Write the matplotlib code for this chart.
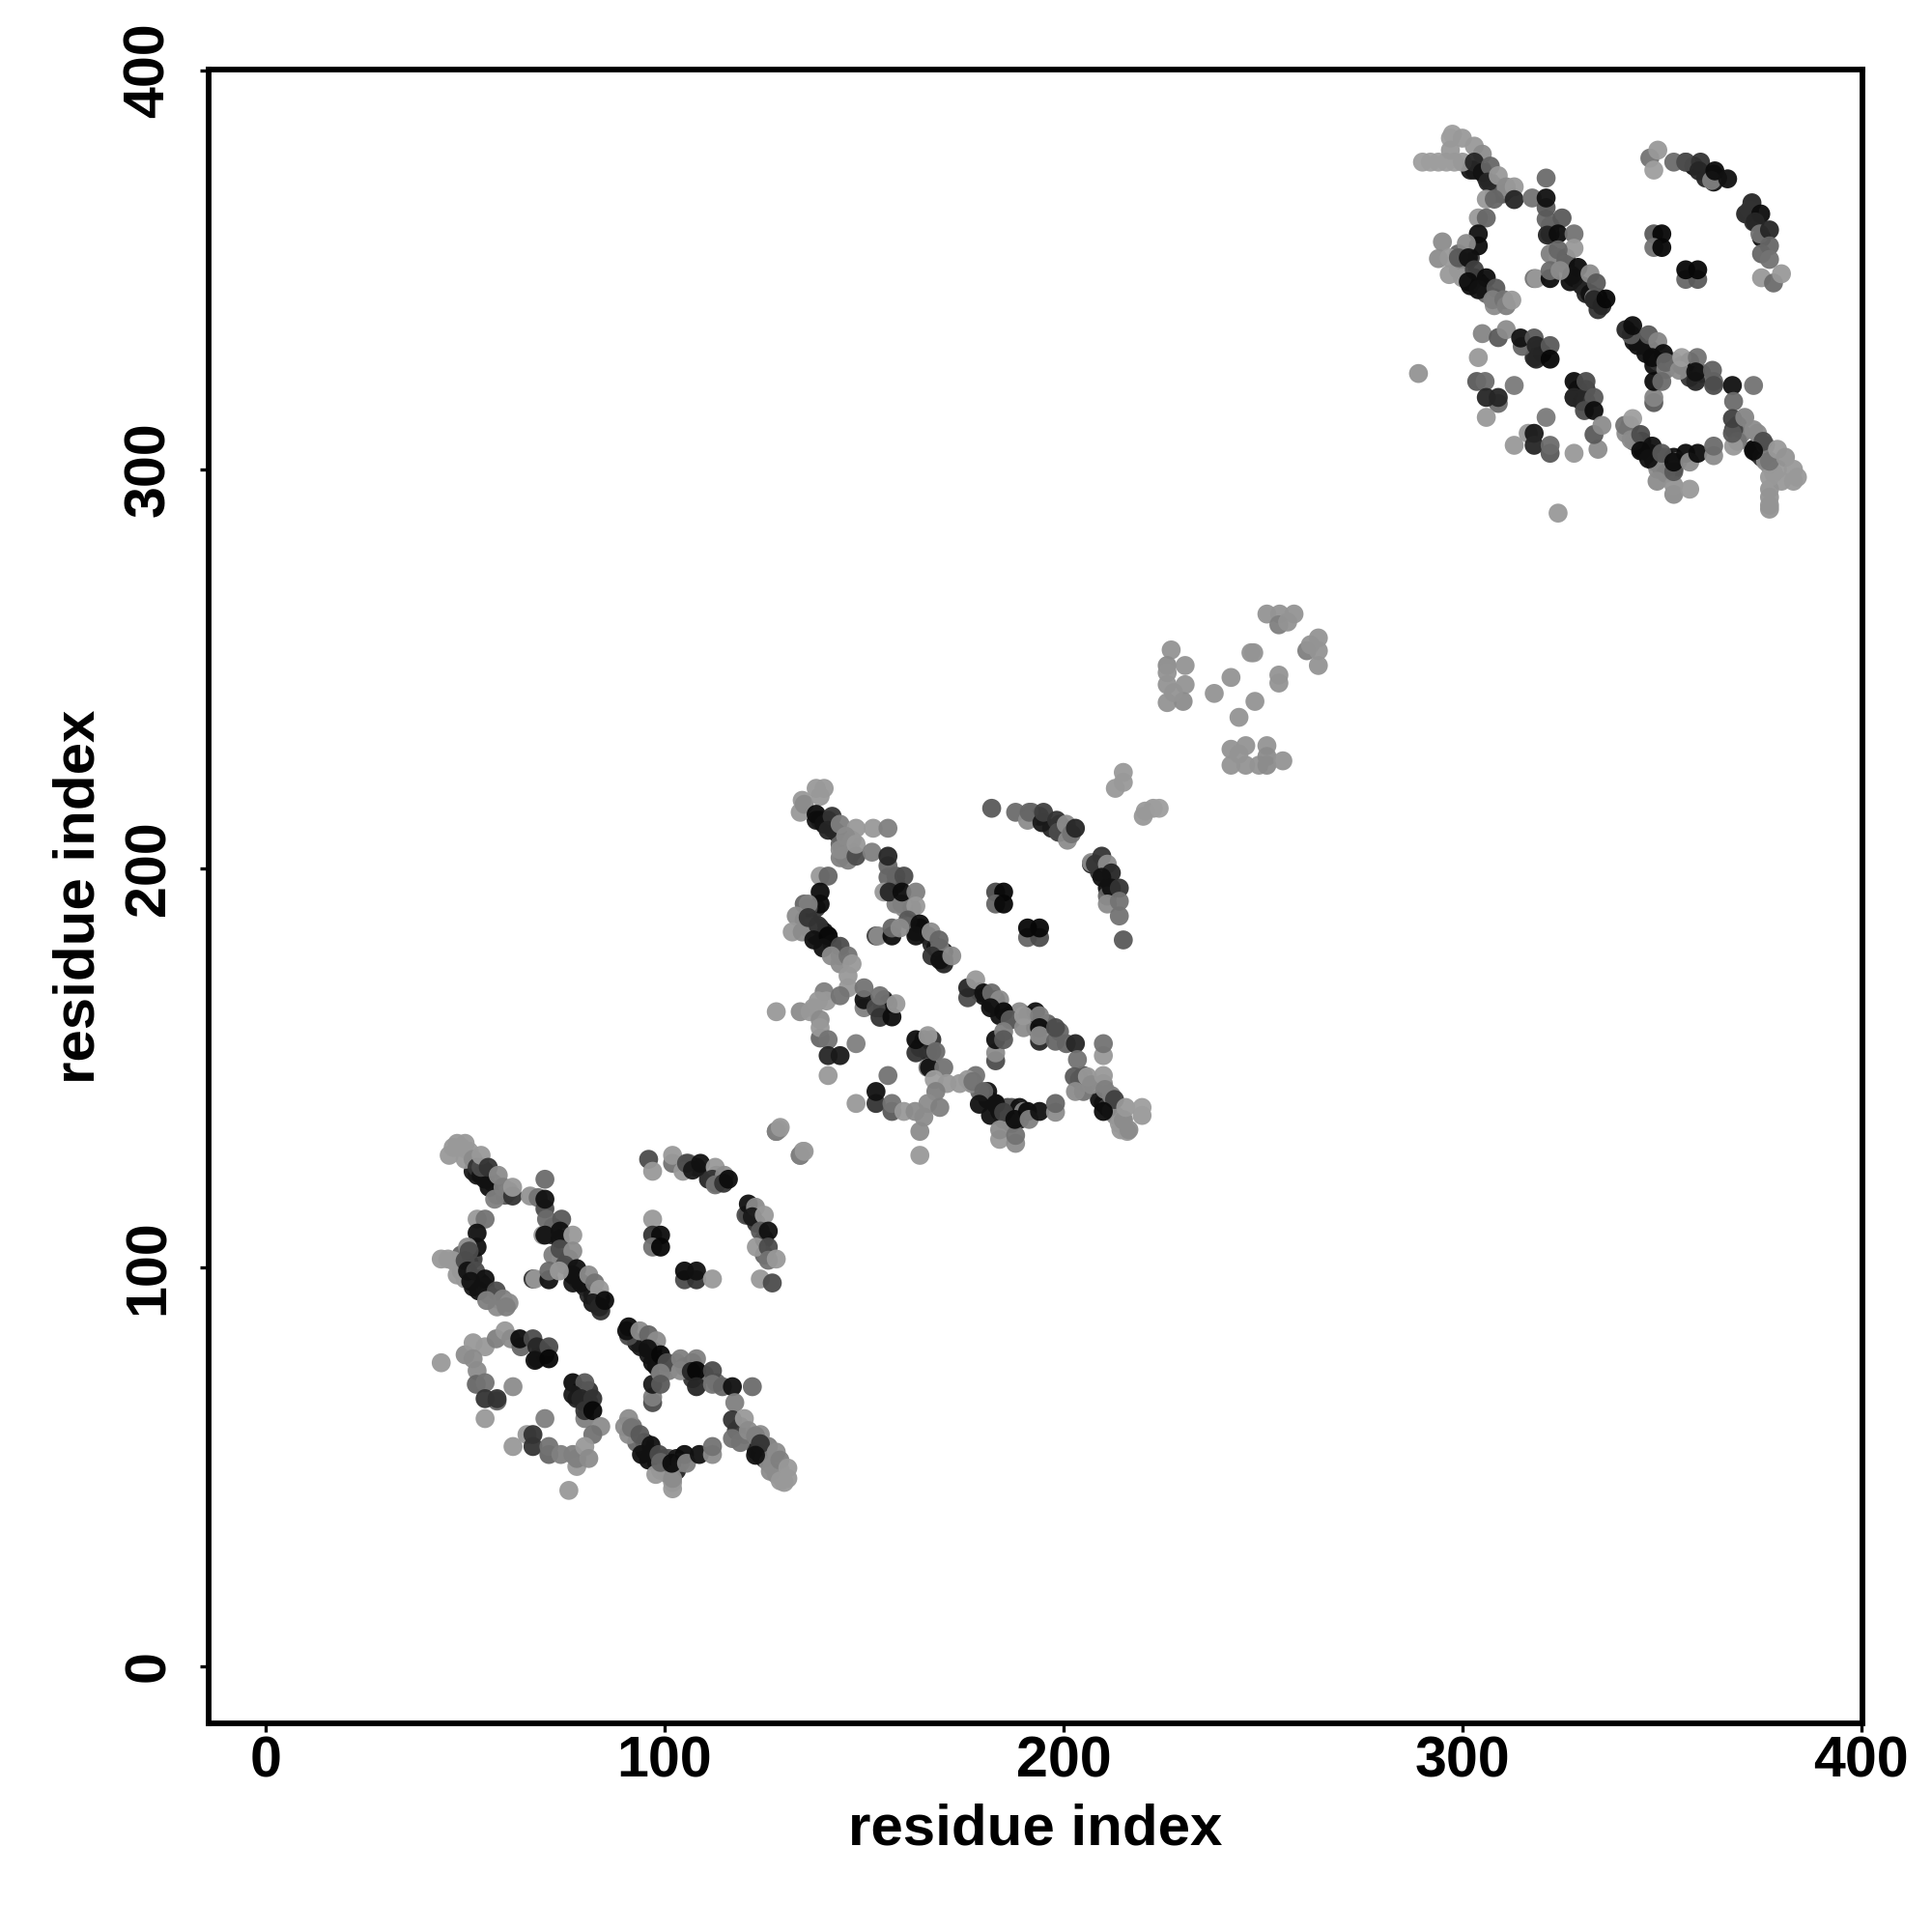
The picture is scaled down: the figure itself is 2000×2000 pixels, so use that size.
import matplotlib
matplotlib.use('Agg')
import matplotlib.pyplot as plt

plt.rcParams['font.family'] = ['Liberation Sans', 'DejaVu Sans']
plt.rcParams['font.weight'] = 'bold'

tick_values = [0, 100, 200, 300, 400]
axis_label = 'residue index'

# contacts as (residue i, residue j, shade), shade is the grey level of the dot
# first repeat
repeat1_dense = [
    (52,124,.1),(53,123,.1),(55,124,.15),(56,122,.2),(57,121,.15),(58,120,.2),(58,118,.4),(60,118,.35),(61,119,.5),
    (51,101,.1),(52,102,.25),(51,98,.15),(53,97,.2),(52,95,.1),(54,96,.1),(55,95,.25),(56,93,.4),(58,92,.5),(58,90,.55),
    (49,103,.4),(49,99,.55),(50,97,.6),
    (72,103,.5),(74,102,.55),(76,102,.3),(77,96,.1),(78,97,.1),(80,95,.1),(81,93,.15),(82,93,.1),(84,92,.1),(84,89,.2),
    (83,92,.5),(72,108,.2),(72,110,.35),
    (93,81,.1),(94,80,.1),(96,78,.1),(97,79,.1),(98,75,.1),(99,76,.2),(101,74,.5),(103,76,.55),(105,75,.2),(107,72,.2),
    (107,76,.1),(110,73,.4),(113,71,.4),(119,60,.3),(120,58,.5),(123,54,.1),(124,53,.1),(125,52,.2),(126,51,.55),(127,50,.55),
    (129,49,.6),(128,48,.6),(130,46,.6),(126,55,.5),(124,58,.55),(118,59,.25),(119,56,.45),
    (95,56,.1),(95,54,.1),(97,53,.1),(98,51,.1),(100,52,.3),(100,49,.1),(101,52,.35),(103,52,.1),(103,49,.15),
    (92,60,.45),(93,56,.4),(91,58,.55),(99,49,.55),(101,48,.5),(104,51,.5),
    (111,122,.15),(113,121,.1),(113,123,.2),(114,122,.15),(106,126,.4),(108,125,.1),(121,113,.15),(123,111,.2),(125,107,.1),(125,103,.4),
    (68,77,.15),(69,79,.2),(70,78,.1),(78,67,.15),(80,66,.1),(81,66,.2),(81,69,.2),(79,69,.15),(80,62,.5),
]
repeat1_upper = [
    (46,128,.6),(47,130,.6),(48,131,.6),(49,130,.6),(50,131,.6),(51,129,.6),(50,127,.6),(52,127,.55),
    (53,125,.2),(54,123,.07),(55,122,.07),(56,120,.07),(54,125,.3),(54,128,.6),(55.8,125,.2),(58.3,123,.55),
    (57.4,117,.5),(59.5,120,.5),(61.9,117.8,.2),(61.9,120,.6),(66.3,117.8,.58),(68.3,117.4,.45),
    (70,122,.42),(70,114.6,.3),(70,117,.07),(70.4,112,.42),(74.2,112,.35),(69.5,108,.6),(70,108,.07),
    (73.8,109,.07),(73.8,107,.07),(77,108,.6),(73.8,104.5,.3),(77,104,.55),(75,100.5,.3),(78,99.6,.07),
    (77,98,.07),(79,96,.07),(81,98,.55),(82.5,96,.45),(83.7,94.4,.6),(82,91,.1),(83.7,90,.15),(85,91.6,.05),
    (67,97,.2),(67.5,97,.6),(71,96.8,.07),(71,99,.42),(73.6,99,.6),
]
repeat1_loop = [
    (53,112,.6),(55,112,.45),(53,108.5,.07),(53,105,.07),(50.6,105,.55),(51,104,.3),(44,102,.6),(45.7,102,.6),
    (47,101.6,.6),(48,98,.6),(50,101.6,.3),(50.6,99,.07),(52.6,99,.3),(51.4,96.4,.07),(55,97,.07),(53.4,94,.07),
    (57.8,94,.3),(55.4,91.6,.5),(59.5,92,.5),(61,91,.55),(60.3,90,.5),
]
repeat1_arc = [
    (96,127,.3),(97,124,.6),(102,126,.45),(102,128,.6),(104.6,124,.6),(105.5,126,.3),(107,124.3,.1),(109,126,.07),
    (112.7,125,.6),(112,122,.2),(115,123,.55),(112.7,120.6,.45),(114.8,121,.2),(116,122,.05),
    (120.4,113,.3),(121,115.8,.07),(122.8,115,.55),(122,112.6,.1),(125,113,.6),(124,109,.35),(126,109,.07),
    (123,105,.6),(126,105,.3),(126,101.7,.45),(128,102,.6),(124,97,.6),(127,96,.3),
    (97,112,.6),(97,108,.2),(99,108,.05),(97,105,.45),(99,105,.03),(105,96.8,.3),(108,96.8,.2),(105,99,.05),
    (108,99,.07),(112,97,.6),(128,134,.5),(128.7,134.5,.6),(134,128,.55),(134.7,129,.6),
]
repeat1_lower_left = [
    (44,76,.6),(50,78,.55),(52,81,.6),(55,80,.6),(57.8,82,.5),(60,84,.6),(61.5,82,.55),(64,80,.4),(63.7,82,.05),
    (67,82,.3),(68,80,.15),(71,80,.3),(67.5,76.6,.07),(71,77,.03),(52,77,.55),(53,74,.55),(52.8,70.6,.4),(55,71,.45),
    (58,66.4,.4),(55,67,.2),(58,67,.2),(62,70,.55),(55,62,.6),(70,62,.5),
    (77,71,.05),(80,71,.35),(77,68,.1),(79,67,.15),(82,67,.2),(80,64,.2),(82,64,.03),(84,60,.55),(82,58,.45),
    (65.5,58,.6),(67,58,.2),(67,55,.2),(62,55,.6),(71,53,.4),(71,55,.45),(74,53,.5),(77,53,.5),(78,50,.6),(78,52,.5),
    (80,55,.6),(81,52,.55),(76,44,.6),
]
repeat1_lower_right = [
    (91,82.7,.3),(90.5,84,.07),(91,85,.05),(93.8,84,.55),(96,83,.4),(98,81.5,.55),(95.8,79.5,.07),(97,76,.07),(99,78,.03),
    (100.6,76,.3),(104,74,.55),(104,77,.5),(108,77,.5),(106.7,73.8,.15),(108,74,.03),(112,74,.3),(108,70,.15),
    (112,70.6,.45),(114.5,70,.4),(117,70,.07),(122,70,.42),(117.6,66,.5),(117,61.7,.2),(120,62,.6),(117,57,.45),
    (121,59,.55),(122.8,57.7,.5),(124,55.7,.2),(122.8,52.8,.07),(128,53.6,.55),(126.5,48.8,.55),(129,46.4,.6),(128.9,51.6,.5),
    (130.9,47,.6),(130.9,49.6,.6),
    (97,66,.3),(97,67.4,.5),(97,70.6,.1),(99,73.4,.5),(99,70.6,.35),
    (91,62,.55),(90,60,.55),(91.7,59.7,.45),(93.8,58,.35),(96.6,55.3,.07),(94.2,53,.07),(96,51.6,.07),(98.6,53,.3),
    (97.8,48,.6),(102,44.4,.6),(102,46,.6),(102,47,.55),(99,51,.4),(101.8,50.8,.05),(105,53,.05),(105.5,50.8,.5),
    (108.7,53,.07),(112,53,.55),(112,55,.45),
]

# second repeat
repeat2_dense = [
    (138,212,.1),(139,212,.1),(141,212,.15),(142,210,.2),(143,209,.15),(144,208,.2),(144,206,.4),(146,206,.35),(147,207,.5),
    (147,204,.45),(146,202,.5),(145,203,.55),(158,191,.5),(160,190,.55),(162,190,.3),(163,184,.07),(164,185,.07),(166,183,.1),
    (167,181,.15),(168,180,.07),(170,179,.07),(170,177,.2),(169,180,.5),(158,196,.2),(158,198,.35),
    (137,189,.1),(138,190,.25),(137,186,.15),(139,185,.2),(138,183,.07),(140,184,.07),(141,183,.25),(142,181,.4),(144,178,.5),
    (144,176,.55),(135,191,.4),(135,187,.55),(136,185,.6),
    (179,169,.07),(180,168,.07),(182,166,.07),(183,167,.07),(184,163,.07),(185,164,.2),(187,162,.5),(189,164,.55),(191,163,.2),
    (193,160,.2),(193,164,.07),(196,161,.4),(199,159,.4),(205,148,.3),(206,146,.5),(209,142,.07),(210,141,.07),(211,140,.2),
    (212,139,.55),(213,138,.55),(215,137,.6),(214,136,.6),(216,134,.6),(212,143,.5),(210,146,.55),(204,147,.25),(205,144,.45),
    (181,144,.07),(181,142,.07),(183,141,.07),(184,139,.07),(186,140,.3),(186,137,.07),(187,140,.35),(189,140,.07),(189,137,.15),
    (178,148,.45),(179,144,.4),(177,146,.55),(185,137,.55),(187,136,.5),(190,139,.5),
    (197,210,.15),(199,209,.1),(199,211,.2),(200,210,.15),(192,214,.4),(194,213,.07),(207,201,.15),(209,199,.2),(211,195,.07),(211,193,.4),
    (154,165,.15),(155,167,.2),(156,166,.07),(164,155,.15),(166,154,.07),(167,154,.2),(167,157,.2),(165,157,.15),(166,150,.5),
]
repeat2_upper = [
    (138,220,.6),(140,220,.6),(134.5,217,.6),(134,214,.6),(135,216,.55),(139,218,.6),(138,213.5,.05),(140,211,.07),
    (142,213,.2),(141,209.5,.15),(144,211,.5),(148,210,.6),(145.4,208,.55),(144,202.6,.5),(144,204.6,.55),(148,203,.3),
    (148,206,.6),(152.3,210,.6),(156,210,.5),(152,204,.5),(156,197.7,.4),(156,200.6,.4),(156,203,.15),(160,198,.3),
    (155,194,.6),(156.3,194,.15),(159.5,191,.5),(159.5,194,.05),(163,194,.5),(163,190.5,.6),(161,187,.35),(164,186,.05),
    (163,183,.07),(166.8,184,.55),(168.8,182,.4),(167,178,.2),(170,176,.15),(169,177,.07),(172,178,.55),
    (153,183,.25),(153.5,183,.55),(157,183,.05),(157,185,.4),(159,185,.55),
]
repeat2_loop = [
    (139,198,.6),(141,198,.4),(139,194,.05),(139,191,.05),(136,190,.3),(136,191,.5),(133,188,.55),(132,184,.6),(134.5,184,.55),
    (136,187.6,.2),(138.5,185.6,.2),(137.4,182,.07),(141,183,.03),(139.7,180,.07),(144,180.4,.3),(141.8,178,.55),
    (146,178,.45),(146,170,.6),(146,173,.6),(147,176,.6),
]
repeat2_arc = [
    (182,215,.35),(188,214,.42),(191,212,.55),(191.4,214,.4),(194.6,211.4,.1),(195,214,.25),(198.3,212,.2),(198.7,209,.3),
    (200.7,211,.55),(201,207,.55),(202,208.6,.45),(203,210,.15),
    (207,201.4,.55),(209.6,203,.2),(208,201,.2),(211,201,.55),(212,198.8,.15),(209.6,197.7,.07),(212,195,.07),(214,195,.2),
    (211,191,.55),(214,191.7,.45),(214,188,.45),(215,182,.35),
    (183,194,.3),(185,194,.03),(183,191,.4),(185,191,.03),(191,182.6,.4),(194,182.6,.3),(191,185,.03),(194,185,.03),
    (213,220,.6),(215,221.5,.6),(215,224,.6),(220,213,.6),(220.5,214.3,.6),(222.5,215,.6),(224,215,.62),
]
repeat2_lower_left = [
    (128,164,.6),(134,164,.55),(136.5,164,.6),(140,169,.5),(138.5,166.7,.6),(140.6,166.7,.6),(137.3,165,.6),(139,162,.55),
    (139,157.4,.4),(139,160,.6),(141,157,.45),(141,153,.15),(144,153,.1),(148,156,.5),(141,148,.6),(144,168,.45),
    (150,165,.5),(150,167,.07),(150,170,.45),(153,165,.3),(154,162.6,.2),(154,168,.45),(157,162.7,.05),(158,166,.6),
    (163,153.7,.2),(163,157,.05),(166,158,.6),(166.4,150,.07),(168,154,.42),(170,150,.45),(167.6,147,.62),(170.8,146,.6),
    (174,146,.6),(176,147,.6),(156,148,.45),(153,141,.2),(153,144,.07),(157,139,.35),(157,141,.45),(148,141,.6),(160,139,.6),
    (164,134,.55),(165,137.6,.55),(162.8,139,.55),(168,144,.5),(166,141,.55),(169,140,.5),(164,128,.6),
    (128,134,.5),(129,135,.6),(134,128,.5),(135,129,.6),
]
repeat2_lower_right = [
    (176,167.5,.3),(176,170,.15),(178,172,.6),(180,168.7,.07),(182,168.7,.42),(184,167,.55),(181.7,165,.07),(185,164,.05),
    (186.6,162,.35),(190,160,.55),(190,163,.6),(194,163,.5),(194,156.6,.15),(194,160,.05),(194,158,.55),(198,156.6,.4),
    (198,160,.3),(200.7,156,.4),(203,156,.15),(210,153,.6),(210,156,.45),(203.5,152,.45),
    (183,151.7,.3),(183,153.7,.55),(183,157,.07),(185,159,.5),(185,157,.35),
    (202.7,147.7,.35),(206,147.7,.6),(203,144,.55),(207,145.7,.55),(210,148,.6),(210.4,144.5,.5),(212.8,142,.25),(210,139,.05),
    (214.4,134.4,.6),(216.4,134.4,.55),(215,136.8,.55),(215.6,140,.6),(219.7,138,.6),(219.7,140,.62),
    (177.3,146.5,.45),(180,144,.4),(178.9,140.8,.07),(183,140.8,.07),(181.7,138,.07),(185,138.8,.25),
    (184,132,.6),(184,134.4,.55),(188,131,.55),(188,133,.45),(187.8,137,.05),(191,139,.05),(191.4,137,.5),(194,139,.07),
    (198,138.8,.55),(198,141,.4),
]

# linker between second and third repeat, all light
linker = [
    (251,263.7,.58),(254.2,263.7,.58),(257.8,263.7,.58),(254,261,.5),(256.2,261.7,.58),(261,254.5,.5),(261.9,256,.58),
    (263.9,257.7,.58),(263.9,254.5,.58),(263.9,250.8,.58),(227,254.7,.58),(226,250.8,.55),(230.5,250.8,.58),(226,249,.58),
    (226,246,.58),(230.5,246,.58),(226,241.5,.58),(230,241.8,.55),(227.6,244,.58),(247,254,.58),(247.7,254,.58),
    (242,247.8,.58),(254,248.4,.58),(254,246.4,.58),(237.8,243.8,.58),(248,241.8,.58),(244,237.8,.58),
    (242,229.8,.58),(245.7,230.7,.58),(251,230.7,.58),(242,225.8,.58),(245.7,225.8,.58),(249,225.8,.58),(251,228,.55),
    (251,225.8,.55),(255,226.9,.58),(244,228.6,.58),
]

# third repeat
repeat3_dense = [
    (302,375,.1),(303,375,.1),(305,375,.15),(306,373,.2),(307,372,.15),(308,371,.2),(308,369,.4),(310,369,.35),(311,370,.5),
    (322,354,.5),(324,353,.55),(326,353,.3),(327,347,.07),(328,348,.07),(330,346,.1),(331,344,.15),(332,344,.07),(334,343,.07),
    (334,340,.2),(333,343,.5),(322,359,.2),(322,361,.35),
    (301,352,.1),(302,353,.25),(301,349,.15),(303,348,.2),(302,346,.07),(304,347,.07),(305,346,.25),(306,344,.4),(308,343,.5),
    (308,341,.55),(299,354,.4),(299,350,.55),(300,348,.6),
    (343,332,.07),(344,331,.07),(346,329,.07),(347,330,.07),(348,326,.07),(349,327,.2),(351,325,.5),(353,327,.55),(355,326,.2),
    (357,323,.2),(357,327,.07),(360,324,.4),(363,322,.4),(369,311,.3),(370,309,.5),(373,305,.07),(374,304,.07),(375,303,.2),
    (376,302,.55),(377,301,.55),(379,300,.6),(378,299,.6),(380,297,.6),(376,306,.5),(374,309,.55),(368,310,.25),(369,307,.45),
    (345,307,.07),(345,305,.07),(347,304,.07),(348,302,.07),(350,303,.3),(350,300,.07),(351,303,.35),(353,303,.07),(353,300,.15),
    (342,311,.45),(343,307,.4),(341,309,.55),(349,300,.55),(351,299,.5),(354,302,.5),
    (361,373,.15),(363,372,.07),(363,374,.2),(364,373,.15),(356,377,.4),(358,376,.07),(371,364,.15),(373,362,.2),(375,358,.07),(375,354,.4),
    (318,328,.15),(319,330,.2),(320,329,.07),(328,318,.15),(330,317,.07),(331,317,.2),(331,320,.2),(329,320,.15),
]
repeat3_upper = [
    (290,377,.62),(292,377,.62),(294,377,.62),(296,377,.62),(298,377,.62),(300,377,.6),(297,383,.62),(297.5,384,.62),
    (300,383,.6),(303,381,.6),(297,380,.6),(305,379,.55),(303,377,.15),(305,374.4,.07),(307,376,.4),(306.4,372,.15),
    (309,373.6,.6),(311,370.8,.55),(313,370.8,.6),(306,367.7,.6),(308,367.7,.4),(313,367.6,.15),(317.5,368,.45),
    (321,373,.42),(321,362.7,.4),(321,365.6,.35),(321,368,.07),(325,363,.35),(321.3,358.7,.15),(324,359,.05),(328,359,.45),
    (328,355.4,.6),(324,355,.4),(325.8,351.4,.4),(329,350.6,.05),(327.4,348.6,.07),(332,349,.55),(333.6,346.7,.35),
    (333,342.5,.15),(335,341,.15),(336,342.7,.03),
    (318,347.8,.45),(318.5,347.8,.6),(322,347.8,.05),(322,349.8,.42),(324.5,349.8,.55),
]
repeat3_loop = [
    (304,363,.6),(306,363,.4),(304,359,.07),(304,356,.05),(301,356.6,.55),(295,357,.55),(294,352.8,.55),(296.7,353,.6),
    (296.7,348.8,.6),(299,353,.35),(301.5,353,.07),(303,350,.25),(301.5,347,.05),(306,348,.05),(304,345,.07),(308.4,345.4,.35),
    (307.6,342.5,.5),(310.4,342.5,.45),(311,341,.5),(312.4,342.4,.6),
]
repeat3_arc = [
    (347,378,.45),(349,380,.6),(348,375,.62),(353,377,.42),(356,377,.3),(359.7,377,.2),(359.3,374.8,.15),(362.5,372.4,.5),
    (363.3,374.8,.05),(366.5,372.8,.07),(372.6,366.8,.15),(372,365,.2),(374.8,364,.05),(373.4,362,.15),(374.6,359,.45),
    (377,360,.15),(377,356,.4),(377,352.6,.45),(375,348,.6),(378,346.7,.42),(380,349,.6),
    (348,359,.35),(350,359,.03),(348,355.6,.45),(350,355.6,.03),(356,347.6,.4),(359,347.6,.35),(356,350,.03),(359,350,.03),
]
repeat3_lower_left = [
    (289,324,.58),(305,334,.52),(309,333,.35),(311,335,.55),(304,328,.6),(315,330.8,.4),(314.6,332.9,.07),(318,332.9,.35),
    (318.5,331,.15),(322,331,.35),(318.5,327.6,.15),(322,327.6,.03),(303.6,322,.35),(305.7,322,.42),(313,321,.48),
    (309,316.5,.42),(306,318,.15),(309,318,.15),(306,313,.6),(321,313,.48),(316.5,309,.6),(318,309,.1),(318,306,.15),
    (313,306,.6),(322,304,.35),(322,306,.42),(328,304,.6),(334,305,.55),(324,289,.6),
    (328,322,.05),(331,322,.3),(328,318,.15),(333,318,.35),(330.6,314.7,.3),(333,314.7,.05),(333,308.7,.35),(335,311,.55),
]
repeat3_lower_right = [
    (342.3,333.7,.35),(341,335,.15),(342.7,336,.05),(346.7,333.7,.35),(349,332,.52),(347.6,328,.05),(350.4,329,.05),(351,326.8,.4),
    (354.4,324.8,.55),(355,328,.62),(358.9,328,.45),(358.5,322,.15),(358.5,324.4,.07),(362.7,324.8,.38),(363,321,.3),
    (367.7,321,.07),(373,321,.45),(368,317,.42),(348,316.7,.35),(348,318,.52),(348,322,.05),(350,322,.42),
    (368,305.8,.6),(367.7,309,.35),(367.7,312.7,.25),(370.8,313,.52),(373,309.9,.55),(375.4,307,.3),(373,304.6,.05),
    (377,290,.58),(377,291,.58),(377,293,.58),(377,295,.58),(377,298,.6),(377,302,.45),(379,305,.6),(381,303,.58),(383,297,.6),(383,300,.6),(384,298,.6),
    (340.7,311,.45),(342.7,312.7,.62),(342.3,307.4,.55),(344.7,308.7,.3),(347.6,305.8,.07),(344.7,304.6,.05),(346.7,302.6,.07),
    (350,304,.35),(348.8,297,.55),(353,293.7,.55),(353,296,.58),(353,299.4,.35),(353,301.8,.05),(357,295,.6),(356,304,.05),
    (357,301.8,.55),(359,304,.05),(363,303.4,.55),(363,305.8,.42),
]

contact_groups = [
    repeat1_dense, repeat1_upper, repeat1_loop, repeat1_arc, repeat1_lower_left, repeat1_lower_right,
    repeat2_dense, repeat2_upper, repeat2_loop, repeat2_arc, repeat2_lower_left, repeat2_lower_right,
    linker,
    repeat3_dense, repeat3_upper, repeat3_loop, repeat3_arc, repeat3_lower_left, repeat3_lower_right,
]

fig = plt.figure(figsize=(10, 10), dpi=200)
ax = fig.add_axes([216 / 2000, 216 / 2000, 1712 / 2000, 1712 / 2000])

for group in contact_groups:
    xs, ys, shades = zip(*group)
    ax.scatter(xs, ys, c=shades, cmap='gray', vmin=0, vmax=1, s=50, linewidths=0, alpha=0.95, clip_on=False)

ax.set_xlim(-14.3, 400.3)
ax.set_ylim(-14.4, 400.2)
ax.set_xticks(tick_values)
ax.set_yticks(tick_values)
ax.tick_params(axis='both', length=3.4, width=1.2, labelsize=21.3)
ax.tick_params(axis='x', pad=1)
ax.tick_params(axis='y', pad=8.8)
for lab in ax.get_yticklabels():
    lab.set_rotation(90)
    lab.set_va('center')
for sp in ax.spines.values():
    sp.set_linewidth(2.1)

ax.set_xlabel(axis_label, fontsize=21.6, fontweight='bold', va='center')
ax.set_ylabel(axis_label, fontsize=21.6, fontweight='bold', va='center')
ax.xaxis.set_label_coords(0.5, -0.0645)
ax.yaxis.set_label_coords(-0.0785, 0.5)

fig.savefig('out.png', dpi=200, facecolor='white')
